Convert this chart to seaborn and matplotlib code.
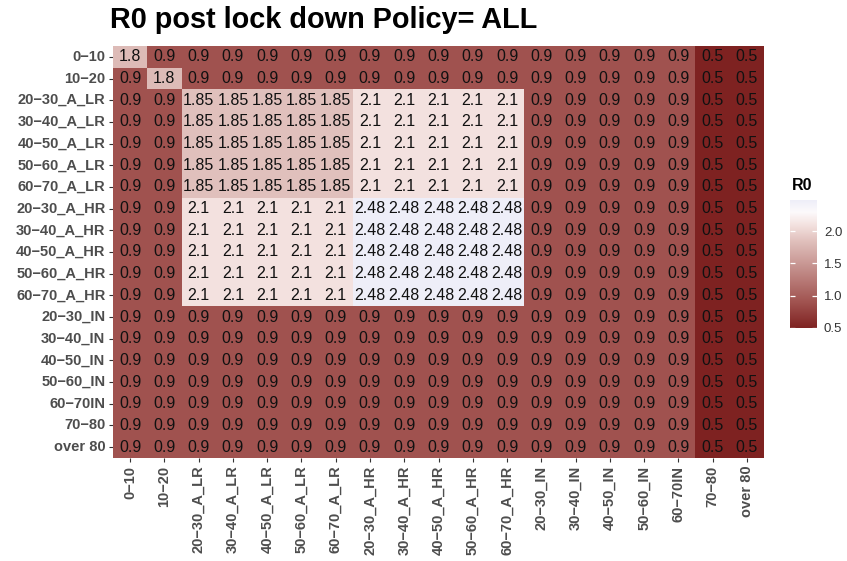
import matplotlib
matplotlib.use("Agg")
import numpy as np
import pandas as pd
import matplotlib.pyplot as plt
import seaborn as sns
from matplotlib.colors import LinearSegmentedColormap

sns.set_theme(style="white")
plt.rcParams["font.family"] = ["Liberation Sans", "DejaVu Sans"]

# Age / risk groups (rows and columns share the same order)
groups = [
    "0\u221210", "10\u221220",
    "20\u221230_A_LR", "30\u221240_A_LR", "40\u221250_A_LR", "50\u221260_A_LR", "60\u221270_A_LR",
    "20\u221230_A_HR", "30\u221240_A_HR", "40\u221250_A_HR", "50\u221260_A_HR", "60\u221270_A_HR",
    "20\u221230_IN", "30\u221240_IN", "40\u221250_IN", "50\u221260_IN", "60\u221270IN",
    "70\u221280", "over 80",
]

# R0 values, one list per row group
r_0_10 =      [1.8, 0.9, 0.9, 0.9, 0.9, 0.9, 0.9, 0.9, 0.9, 0.9, 0.9, 0.9, 0.9, 0.9, 0.9, 0.9, 0.9, 0.5, 0.5]
r_10_20 =     [0.9, 1.8, 0.9, 0.9, 0.9, 0.9, 0.9, 0.9, 0.9, 0.9, 0.9, 0.9, 0.9, 0.9, 0.9, 0.9, 0.9, 0.5, 0.5]
r_20_30_alr = [0.9, 0.9, 1.85, 1.85, 1.85, 1.85, 1.85, 2.1, 2.1, 2.1, 2.1, 2.1, 0.9, 0.9, 0.9, 0.9, 0.9, 0.5, 0.5]
r_30_40_alr = [0.9, 0.9, 1.85, 1.85, 1.85, 1.85, 1.85, 2.1, 2.1, 2.1, 2.1, 2.1, 0.9, 0.9, 0.9, 0.9, 0.9, 0.5, 0.5]
r_40_50_alr = [0.9, 0.9, 1.85, 1.85, 1.85, 1.85, 1.85, 2.1, 2.1, 2.1, 2.1, 2.1, 0.9, 0.9, 0.9, 0.9, 0.9, 0.5, 0.5]
r_50_60_alr = [0.9, 0.9, 1.85, 1.85, 1.85, 1.85, 1.85, 2.1, 2.1, 2.1, 2.1, 2.1, 0.9, 0.9, 0.9, 0.9, 0.9, 0.5, 0.5]
r_60_70_alr = [0.9, 0.9, 1.85, 1.85, 1.85, 1.85, 1.85, 2.1, 2.1, 2.1, 2.1, 2.1, 0.9, 0.9, 0.9, 0.9, 0.9, 0.5, 0.5]
r_20_30_ahr = [0.9, 0.9, 2.1, 2.1, 2.1, 2.1, 2.1, 2.48, 2.48, 2.48, 2.48, 2.48, 0.9, 0.9, 0.9, 0.9, 0.9, 0.5, 0.5]
r_30_40_ahr = [0.9, 0.9, 2.1, 2.1, 2.1, 2.1, 2.1, 2.48, 2.48, 2.48, 2.48, 2.48, 0.9, 0.9, 0.9, 0.9, 0.9, 0.5, 0.5]
r_40_50_ahr = [0.9, 0.9, 2.1, 2.1, 2.1, 2.1, 2.1, 2.48, 2.48, 2.48, 2.48, 2.48, 0.9, 0.9, 0.9, 0.9, 0.9, 0.5, 0.5]
r_50_60_ahr = [0.9, 0.9, 2.1, 2.1, 2.1, 2.1, 2.1, 2.48, 2.48, 2.48, 2.48, 2.48, 0.9, 0.9, 0.9, 0.9, 0.9, 0.5, 0.5]
r_60_70_ahr = [0.9, 0.9, 2.1, 2.1, 2.1, 2.1, 2.1, 2.48, 2.48, 2.48, 2.48, 2.48, 0.9, 0.9, 0.9, 0.9, 0.9, 0.5, 0.5]
r_20_30_in =  [0.9, 0.9, 0.9, 0.9, 0.9, 0.9, 0.9, 0.9, 0.9, 0.9, 0.9, 0.9, 0.9, 0.9, 0.9, 0.9, 0.9, 0.5, 0.5]
r_30_40_in =  [0.9, 0.9, 0.9, 0.9, 0.9, 0.9, 0.9, 0.9, 0.9, 0.9, 0.9, 0.9, 0.9, 0.9, 0.9, 0.9, 0.9, 0.5, 0.5]
r_40_50_in =  [0.9, 0.9, 0.9, 0.9, 0.9, 0.9, 0.9, 0.9, 0.9, 0.9, 0.9, 0.9, 0.9, 0.9, 0.9, 0.9, 0.9, 0.5, 0.5]
r_50_60_in =  [0.9, 0.9, 0.9, 0.9, 0.9, 0.9, 0.9, 0.9, 0.9, 0.9, 0.9, 0.9, 0.9, 0.9, 0.9, 0.9, 0.9, 0.5, 0.5]
r_60_70_in =  [0.9, 0.9, 0.9, 0.9, 0.9, 0.9, 0.9, 0.9, 0.9, 0.9, 0.9, 0.9, 0.9, 0.9, 0.9, 0.9, 0.9, 0.5, 0.5]
r_70_80 =     [0.9, 0.9, 0.9, 0.9, 0.9, 0.9, 0.9, 0.9, 0.9, 0.9, 0.9, 0.9, 0.9, 0.9, 0.9, 0.9, 0.9, 0.5, 0.5]
r_over_80 =   [0.9, 0.9, 0.9, 0.9, 0.9, 0.9, 0.9, 0.9, 0.9, 0.9, 0.9, 0.9, 0.9, 0.9, 0.9, 0.9, 0.9, 0.5, 0.5]

rows = [
    r_0_10, r_10_20,
    r_20_30_alr, r_30_40_alr, r_40_50_alr, r_50_60_alr, r_60_70_alr,
    r_20_30_ahr, r_30_40_ahr, r_40_50_ahr, r_50_60_ahr, r_60_70_ahr,
    r_20_30_in, r_30_40_in, r_40_50_in, r_50_60_in, r_60_70_in,
    r_70_80, r_over_80,
]
df = pd.DataFrame(np.array(rows), index=groups, columns=groups)

vmin, vmax = 0.5, 2.48
legend_ticks = [0.5, 1.0, 1.5, 2.0]

# Diverging dark red -> white -> faint blue fill scale
def pos(v):
    return (v - vmin) / (vmax - vmin)

cmap = LinearSegmentedColormap.from_list(
    "r0_fill",
    [
        (pos(0.5), "#7e2221"),
        (pos(0.9), "#a0524f"),
        (pos(1.85), "#e0c0bc"),
        (pos(2.1), "#f3e1df"),
        (pos(2.3), "#fcfafb"),
        (pos(2.48), "#eeeef8"),
    ],
)

W, H = 847, 561
fig = plt.figure(figsize=(W / 100, H / 100), dpi=100)
ax = fig.add_axes([113 / W, 1 - 458 / H, 651 / W, 412 / H])
cax = fig.add_axes([790 / W, 1 - 328 / H, 27 / W, 128 / H])

sns.heatmap(
    df, ax=ax, cbar_ax=cax, cmap=cmap, vmin=vmin, vmax=vmax,
    annot=True, fmt="g", linewidths=0,
    annot_kws=dict(color="#111111", fontsize=11.5),
)

ax.tick_params(axis="both", length=3, width=0.8, color="#333333",
               labelsize=10.5, labelcolor="#4d4d4d", pad=2.5,
               bottom=True, left=True)
ax.set_xticklabels(groups, rotation=90, fontweight="bold")
ax.set_yticklabels(groups, rotation=0, fontweight="bold")
ax.set_xlabel("")
ax.set_ylabel("")
for s in ax.spines.values():
    s.set_visible(False)

cbar = ax.collections[0].colorbar
cbar.outline.set_visible(False)
cbar.set_ticks(legend_ticks)
cbar.set_ticklabels([f"{t:.1f}" for t in legend_ticks])
cax.tick_params(length=0, labelsize=9.5, labelcolor="#333333", pad=5)
cax.hlines(legend_ticks, 0, 0.2, color="white", lw=0.9)
cax.hlines(legend_ticks, 0.8, 1.0, color="white", lw=0.9)

fig.text(792 / W, 1 - 190 / H, "R0", fontsize=11.5, fontweight="bold",
         color="black", va="baseline", ha="left")
fig.text(110 / W, 1 - 28.5 / H, "R0 post lock down Policy= ALL", fontsize=20.8,
         fontweight="bold", color="black", va="baseline", ha="left")

fig.savefig("out.png", dpi=100, facecolor="white")
